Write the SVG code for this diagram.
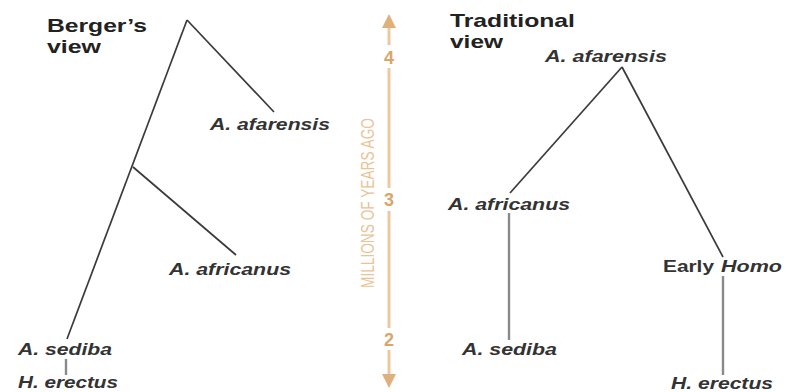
<svg xmlns="http://www.w3.org/2000/svg" width="786" height="392" viewBox="0 0 786 392">
<style>
.t{font-family:"Liberation Sans",Arial,sans-serif;font-weight:bold;fill:#222;}
.sp{font-family:"Liberation Sans",Arial,sans-serif;font-weight:bold;font-style:italic;font-size:17px;fill:#333;}
.up{font-family:"Liberation Sans",Arial,sans-serif;font-weight:bold;font-size:17px;fill:#333;}
.br{stroke:#3a3a3a;stroke-width:1.7;fill:none;}
.vl{stroke:#8a8a8a;stroke-width:2.4;fill:none;}
.ax{stroke:#ebc9a0;stroke-width:3;fill:none;}
.num{font-family:"Liberation Sans",Arial,sans-serif;font-weight:bold;font-size:18px;fill:#d9a56c;text-anchor:middle;}
.axl{font-family:"Liberation Sans",Arial,sans-serif;font-size:18px;fill:#e9c497;}
</style>
<g id="titles">
<text class="t" x="47" y="32" font-size="19" textLength="100" lengthAdjust="spacingAndGlyphs">Berger’s</text>
<text class="t" x="47" y="53" font-size="19" textLength="54" lengthAdjust="spacingAndGlyphs">view</text>
<text class="t" x="450" y="27" font-size="19" textLength="125" lengthAdjust="spacingAndGlyphs">Traditional</text>
<text class="t" x="450" y="48" font-size="19" textLength="53" lengthAdjust="spacingAndGlyphs">view</text>
</g>
<g id="connectors">
<line class="br" x1="187" y1="20" x2="67" y2="339"/>
<line class="br" x1="187" y1="20" x2="274" y2="112"/>
<line class="br" x1="133" y1="167" x2="236" y2="255"/>
<line class="vl" x1="66" y1="359" x2="66" y2="375"/>
<line class="br" x1="622" y1="67" x2="510" y2="193"/>
<line class="br" x1="622" y1="67" x2="723" y2="257"/>
<line class="vl" x1="509" y1="213" x2="509" y2="340"/>
<line class="vl" x1="723" y1="276" x2="723" y2="375"/>
</g>
<g id="axis">
<line class="ax" x1="389" y1="24" x2="389" y2="45"/>
<line class="ax" x1="389" y1="68" x2="389" y2="188"/>
<line class="ax" x1="389" y1="211" x2="389" y2="328"/>
<line class="ax" x1="389" y1="350" x2="389" y2="378"/>
<polygon points="389,14 382,28 396,28" fill="#e0b07c"/>
<polygon points="389,388 382,374 396,374" fill="#e0b07c"/>
<text class="num" x="389" y="64">4</text>
<text class="num" x="389" y="206">3</text>
<text class="num" x="389" y="346">2</text>
<text class="axl" transform="translate(374,288) rotate(-90)" x="0" y="0" textLength="170" lengthAdjust="spacingAndGlyphs">MILLIONS OF YEARS AGO</text>
</g>
<g id="b-afarensis"><text class="sp" x="210" y="130" textLength="120" lengthAdjust="spacingAndGlyphs">A. afarensis</text></g>
<g id="b-africanus"><text class="sp" x="169" y="275" textLength="122" lengthAdjust="spacingAndGlyphs">A. africanus</text></g>
<g id="b-sediba"><text class="sp" x="18" y="355" textLength="94" lengthAdjust="spacingAndGlyphs">A. sediba</text></g>
<g id="b-erectus"><text class="sp" x="18" y="388" textLength="100" lengthAdjust="spacingAndGlyphs">H. erectus</text></g>
<g id="t-afarensis"><text class="sp" x="545" y="62" textLength="122" lengthAdjust="spacingAndGlyphs">A. afarensis</text></g>
<g id="t-africanus"><text class="sp" x="448" y="210" textLength="122" lengthAdjust="spacingAndGlyphs">A. africanus</text></g>
<g id="t-sediba"><text class="sp" x="462" y="355" textLength="95" lengthAdjust="spacingAndGlyphs">A. sediba</text></g>
<g id="t-earlyhomo">
<text class="up" x="663" y="272" textLength="51" lengthAdjust="spacingAndGlyphs">Early</text>
<text class="sp" x="721" y="272" textLength="61" lengthAdjust="spacingAndGlyphs">Homo</text>
</g>
<g id="t-erectus"><text class="sp" x="671" y="389" textLength="102" lengthAdjust="spacingAndGlyphs">H. erectus</text></g>
</svg>
